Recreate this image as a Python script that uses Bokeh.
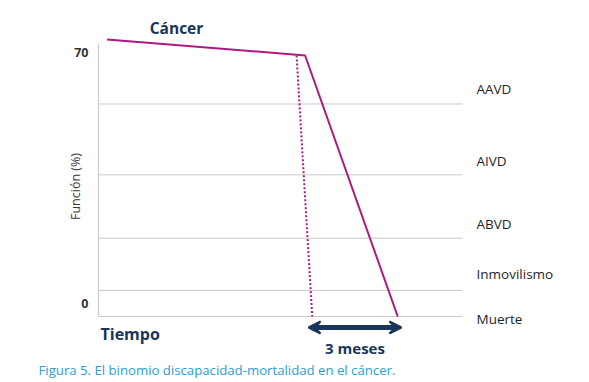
import math
from bokeh.plotting import figure
from bokeh.models import Range1d, ColumnDataSource, Arrow, VeeHead
from bokeh.core.properties import value
from bokeh.embed import file_html
from bokeh.resources import INLINE

# ---------------- data ----------------
cancer_time = [0.3, 7.25, 10.5]        # months
cancer_func = [74.3, 70, 0]            # function (%)
sudden_time = [6.95, 7.5]
sudden_func = [70, 0]
level_names = ["AAVD", "AIVD", "ABVD", "Inmovilismo", "Muerte"]
level_values = [57, 38, 21, 7, 0]
y_tick_values = [70, 0]
y_tick_labels = ["70", "0"]
period_start = 7.5
period_end = 10.5
period_label = "3 meses"
x_max = 12.77
y_axis_top = 73.2

# ---------------- layout helpers ----------------
W, H = 585, 380
KX, KY = 28.5, 3.7286          # px per unit
OX, OY = 98, 316               # px of data origin


def dx(px):
    return (px - OX) / KX


def dy(py):
    return (OY - py) / KY


FONT = value("Open Sans")
NAVY = "#17365a"
MAGENTA = "#b1187f"
GRID = "#cacaca"
CAPTION = "#2a9fd8"

p = figure(width=W, height=H, output_backend="svg", toolbar_location=None,
           x_range=Range1d(dx(0), dx(W)), y_range=Range1d(dy(H), dy(0)),
           x_axis_type=None, y_axis_type=None, min_border=0,
           outline_line_color=None, background_fill_color="white")
p.grid.visible = False

# gridlines (levels) and axis lines
grid_lv = level_values[:-1]
p.segment(x0=[0] * len(grid_lv), y0=grid_lv, x1=[x_max] * len(grid_lv), y1=grid_lv,
          line_color=GRID, line_width=1)
p.segment(x0=[0], y0=[0], x1=[x_max], y1=[0], line_color=GRID, line_width=1.2)
p.segment(x0=[0], y0=[0], x1=[0], y1=[y_axis_top], line_color=GRID, line_width=1.2)

# lines
p.line(sudden_time, sudden_func, line_color=MAGENTA, line_width=2, line_dash="2 2")
p.line(cancer_time, cancer_func, line_color=MAGENTA, line_width=2)

# level labels
lab_offsets = [-15, -14, -14, -16, 2]
lab_src = ColumnDataSource(dict(x=[dx(476)] * len(level_names), y=level_values,
                                text=level_names, yo=lab_offsets))
p.text(x="x", y="y", text="text", y_offset="yo", source=lab_src, text_font=FONT,
       text_font_size="13.5px", text_color="#1f1f1f", text_baseline="middle",
       text_align="left", text_font_style="normal")

# tick labels
tick_src = ColumnDataSource(dict(x=[dx(88)] * 2, y=y_tick_values, text=y_tick_labels,
                                 yo=[-3, -13]))
p.text(x="x", y="y", text="text", y_offset="yo", source=tick_src, text_font=FONT,
       text_font_size="12.5px", text_font_style="bold", text_color="#333333",
       text_align="right", text_baseline="middle")

# axis title
p.text(x=[dx(75)], y=[dy(186)], text=["Función (%)"], angle=math.pi / 2,
       text_font=FONT, text_font_size="12.5px", text_color="#3a3a3a",
       text_align="center", text_baseline="middle")

# headings
p.text(x=[dx(176)], y=[dy(27)], text=["Cáncer"], text_font=FONT, text_font_size="15.5px",
       text_font_style="bold", text_color=NAVY, text_align="center", text_baseline="middle")
p.text(x=[dx(100)], y=[dy(333)], text=["Tiempo"], text_font=FONT, text_font_size="16px",
       text_font_style="bold", text_color=NAVY, text_align="left", text_baseline="middle")

# 3-month arrow
ay = dy(327)
ext = 0.13
head = dict(size=12, fill_color=NAVY, line_color=NAVY, line_width=2)
p.add_layout(Arrow(start=VeeHead(**head), end=VeeHead(**head),
                   x_start=period_start - ext, y_start=ay,
                   x_end=period_end + ext, y_end=ay,
                   line_color=NAVY, line_width=5))
p.text(x=[(period_start + period_end) / 2], y=[dy(347)], text=[period_label],
       text_font=FONT, text_font_size="15px", text_font_style="bold", text_color=NAVY,
       text_align="center", text_baseline="middle")

# caption
p.text(x=[dx(38)], y=[dy(369)], text=["Figura 5. El binomio discapacidad-mortalidad en el cáncer."],
       text_font=FONT, text_font_size="13.2px", text_color=CAPTION,
       text_align="left", text_baseline="middle")

open("out.html", "w").write(file_html(p, INLINE))
